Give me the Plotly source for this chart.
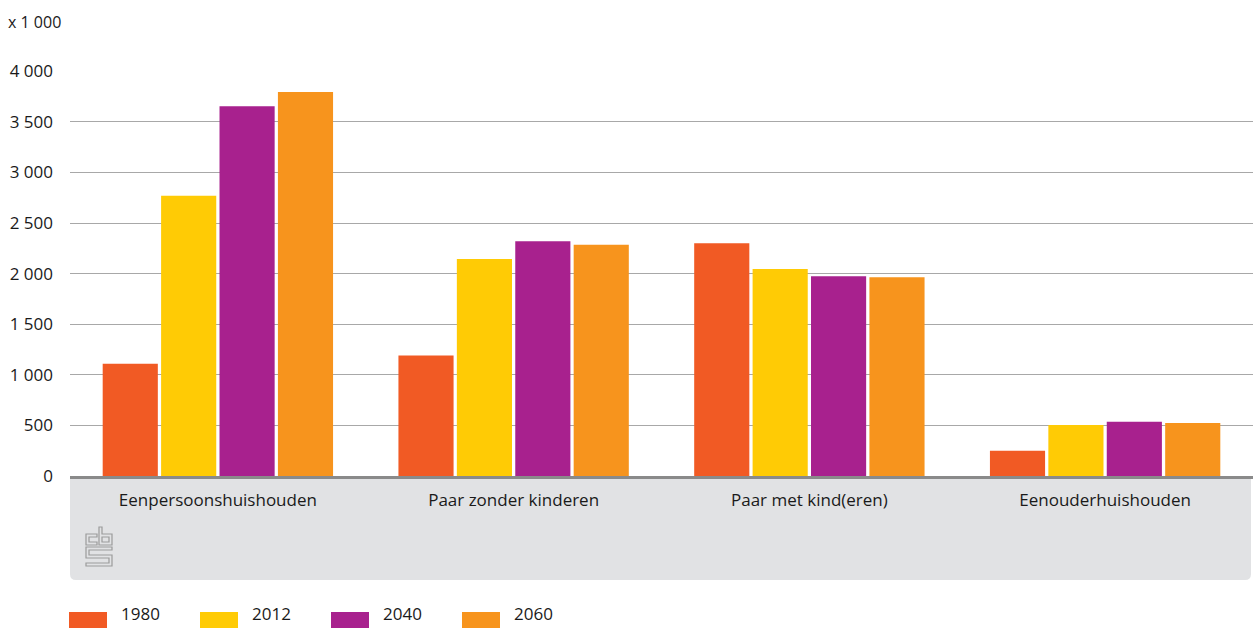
import plotly.graph_objects as go

categories = ["Eenpersoonshuishouden", "Paar zonder kinderen", "Paar met kind(eren)", "Eenouderhuishouden"]
years = ["1980", "2012", "2040", "2060"]
v1980 = [1110, 1190, 2300, 250]
v2012 = [2770, 2145, 2045, 505]
v2040 = [3655, 2320, 1975, 535]
v2060 = [3795, 2285, 1965, 525]
series = [v1980, v2012, v2040, v2060]
colors = ["#f15a24", "#ffcb05", "#a8218e", "#f7941d"]
tick_vals = [0, 500, 1000, 1500, 2000, 2500, 3000, 3500, 4000]
tick_text = ["0", "500", "1 000", "1 500", "2 000", "2 500", "3 000", "3 500", "4 000"]
unit_label = "x 1 000"

W, H = 1253, 628
L, R, T, B = 70, 0, 71, 152
PW = W - L - R
PH = H - T - B
FONT = "Open Sans"
FS = 17
TXT = "#1a1a1a"

def px(x):
    return (x - L) / PW

def py(y):
    return (H - B - y) / PH

fig = go.Figure()
for name, vals, col in zip(years, series, colors):
    fig.add_trace(go.Bar(x=categories, y=vals, name=name, marker_color=col,
                         marker_line_width=0, showlegend=False))

shapes = []
# grey box under the axis
x0, x1, y0, y1, r = 70, 1251, 478, 580, 6
path = (f"M {px(x0)},{py(y0)} L {px(x1)},{py(y0)} L {px(x1)},{py(y1 - r)} "
        f"Q {px(x1)},{py(y1)} {px(x1 - r)},{py(y1)} L {px(x0 + r)},{py(y1)} "
        f"Q {px(x0)},{py(y1)} {px(x0)},{py(y1 - r)} Z")
shapes.append(dict(type="path", xref="paper", yref="paper", path=path,
                   fillcolor="#e1e2e4", line=dict(width=0), layer="below"))

# cbs logo (outline glyph)
def poly(pts):
    s = "M " + " L ".join(f"{px(a)},{py(b)}" for a, b in pts) + " Z"
    return dict(type="path", xref="paper", yref="paper", path=s,
                line=dict(color="#9b9b9b", width=1.2), fillcolor="rgba(0,0,0,0)")

shapes.append(poly([(86, 534), (97, 534), (97, 537), (89, 537), (89, 542), (97, 542), (97, 545), (86, 545)]))
shapes.append(poly([(99, 527), (102, 527), (102, 534), (112, 534), (112, 545), (99, 545)]))
shapes.append(poly([(102, 537), (109, 537), (109, 542), (102, 542)]))
shapes.append(poly([(86, 547), (112, 547), (112, 550), (89, 550), (89, 555), (112, 555),
                    (112, 566), (86, 566), (86, 563), (109, 563), (109, 558), (86, 558)]))

annotations = [dict(text=unit_label, xref="paper", yref="paper", x=px(6), y=py(22),
                    xanchor="left", yanchor="middle", showarrow=False,
                    font=dict(family=FONT, size=FS - 1, color=TXT))]

# custom legend
lx = 69
for name, col in zip(years, colors):
    shapes.append(dict(type="rect", xref="paper", yref="paper",
                       x0=px(lx), x1=px(lx + 38), y0=py(628), y1=py(612),
                       fillcolor=col, line=dict(width=0)))
    annotations.append(dict(text=name, xref="paper", yref="paper", x=px(lx + 50), y=py(627),
                            xanchor="left", yanchor="bottom", showarrow=False,
                            font=dict(family=FONT, size=FS, color=TXT)))
    lx += 131

fig.update_layout(
    width=W, height=H,
    margin=dict(l=L, r=R, t=T, b=B, autoexpand=False),
    paper_bgcolor="white", plot_bgcolor="white",
    barmode="group", bargap=0.21, bargroupgap=0.056,
    font=dict(family=FONT, size=FS, color=TXT),
    shapes=shapes, annotations=annotations,
    showlegend=False,
)
fig.update_xaxes(showline=True, linecolor="#8a8a8a", linewidth=3, ticks="",
                 showgrid=False, ticklabelstandoff=7,
                 tickfont=dict(family=FONT, size=FS, color=TXT))
fig.update_yaxes(range=[0, 4003], tickvals=tick_vals, ticktext=tick_text,
                 showgrid=True, gridcolor="#a8a8a8", gridwidth=1, zeroline=False,
                 ticks="", ticklabelstandoff=16,
                 tickfont=dict(family=FONT, size=FS, color=TXT))

fig.write_html("out.html", config={"displayModeBar": False},
               post_script="document.body.style.margin='0px';document.body.style.overflow='hidden';")
